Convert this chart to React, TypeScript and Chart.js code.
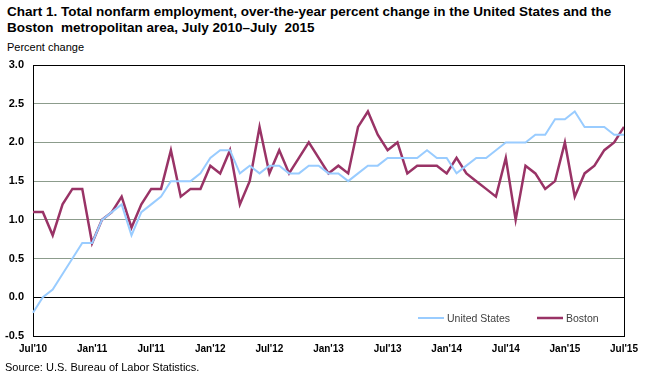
import React, { useEffect, useRef } from "react";
import { Chart, registerables } from "chart.js";

Chart.register(...registerables);

const months = ["Jan", "Feb", "Mar", "Apr", "May", "Jun", "Jul", "Aug", "Sep", "Oct", "Nov", "Dec"];
const categories: string[] = [];
for (let i = 0; i <= 60; i++) {
  const m = (6 + i) % 12;
  const y = 10 + Math.floor((6 + i) / 12);
  categories.push(months[m] + "'" + String(y));
}

const usValues = [
  -0.2, 0.0, 0.1, 0.3, 0.5, 0.7, 0.7, 1.0, 1.1, 1.2, 0.8, 1.1,
  1.2, 1.3, 1.5, 1.5, 1.5, 1.6, 1.8, 1.9, 1.9, 1.6, 1.7, 1.6,
  1.7, 1.7, 1.6, 1.6, 1.7, 1.7, 1.6, 1.6, 1.5, 1.6, 1.7, 1.7,
  1.8, 1.8, 1.8, 1.8, 1.9, 1.8, 1.8, 1.6, 1.7, 1.8, 1.8, 1.9,
  2.0, 2.0, 2.0, 2.1, 2.1, 2.3, 2.3, 2.4, 2.2, 2.2, 2.2, 2.1,
  2.1,
];

const bostonValues = [
  1.1, 1.1, 0.8, 1.2, 1.4, 1.4, 0.7, 1.0, 1.1, 1.3, 0.9, 1.2,
  1.4, 1.4, 1.9, 1.3, 1.4, 1.4, 1.7, 1.6, 1.9, 1.2, 1.5, 2.2,
  1.6, 1.9, 1.6, 1.8, 2.0, 1.8, 1.6, 1.7, 1.6, 2.2, 2.4, 2.1,
  1.9, 2.0, 1.6, 1.7, 1.7, 1.7, 1.6, 1.8, 1.6, 1.5, 1.4, 1.3,
  1.8, 1.0, 1.7, 1.6, 1.4, 1.5, 2.0, 1.3, 1.6, 1.7, 1.9, 2.0,
  2.2,
];

const seriesNames = ["United States", "Boston"];
const seriesColors = ["#99ccff", "#993366"];

const FONT = "'Liberation Sans', Arial, sans-serif";

export default function App() {
  const ref = useRef<HTMLCanvasElement | null>(null);

  useEffect(() => {
    if (!ref.current) return;
    const legendPlugin = {
      id: "insideLegend",
      afterDatasetsDraw(chart: any) {
        const { ctx, chartArea } = chart;
        ctx.save();
        ctx.font = "10.5px " + FONT;
        ctx.textBaseline = "middle";
        ctx.fillStyle = "#404040";
        const y = chartArea.bottom - 18;
        const items = [
          { x: 418, name: seriesNames[0], color: seriesColors[0], w: 2 },
          { x: 537, name: seriesNames[1], color: seriesColors[1], w: 2.5 },
        ];
        for (const it of items) {
          ctx.strokeStyle = it.color;
          ctx.lineWidth = it.w;
          ctx.beginPath();
          ctx.moveTo(it.x, y);
          ctx.lineTo(it.x + 26, y);
          ctx.stroke();
          ctx.fillText(it.name, it.x + 29, y + 1);
        }
        ctx.strokeStyle = "#000";
        ctx.lineWidth = 1;
        ctx.beginPath();
        const rx = Math.round(chartArea.right) + 0.5;
        ctx.moveTo(rx, chartArea.top);
        ctx.lineTo(rx, chartArea.bottom);
        ctx.stroke();
        ctx.restore();
      },
    };

    const chart = new Chart(ref.current, {
      type: "line",
      data: {
        labels: categories,
        datasets: [
          {
            label: seriesNames[0],
            data: usValues,
            borderColor: seriesColors[0],
            borderWidth: 2,
            pointRadius: 0,
            tension: 0,
          },
          {
            label: seriesNames[1],
            data: bostonValues,
            borderColor: seriesColors[1],
            borderWidth: 2.5,
            pointRadius: 0,
            tension: 0,
          },
        ],
      },
      options: {
        responsive: false,
        animation: false,
        layout: { padding: { top: 65, right: 23, left: 0, bottom: 0 } },
        plugins: { legend: { display: false }, title: { display: false }, tooltip: { enabled: false } },
        scales: {
          x: {
            grid: { display: false, drawTicks: false },
            border: { color: "#000", width: 1 },
            ticks: {
              autoSkip: false,
              maxRotation: 0,
              padding: 7,
              color: "#000",
              font: { family: FONT, size: 10, weight: "bold" },
              callback: (_v: any, i: number) => (i % 6 === 0 ? categories[i] : ""),
            },
            afterFit: (s: any) => {
              s.height = 40;
            },
          },
          y: {
            min: -0.5,
            max: 3.0,
            grid: {
              drawTicks: false,
              color: (c: any) => (c.tick && (c.tick.value === 0 || c.tick.value === 3) ? "#000" : "#8c9c8c"),
              lineWidth: 1,
            },
            border: { color: "#000", width: 1 },
            ticks: {
              stepSize: 0.5,
              padding: 9,
              color: "#000",
              font: { family: FONT, size: 11, weight: "bold" },
              callback: (v: any) => Number(v).toFixed(1),
            },
            afterFit: (s: any) => {
              s.width = 33;
            },
          },
        },
      },
      plugins: [legendPlugin],
    });
    return () => chart.destroy();
  }, []);

  return (
    <div style={{ position: "absolute", left: 0, top: 0, width: 647, height: 376, background: "#fff", fontFamily: FONT }}>
      <div style={{ position: "absolute", left: 7, top: 4, fontSize: 13.5, fontWeight: "bold", lineHeight: "16px", color: "#000", whiteSpace: "nowrap" }}>
        Chart 1. Total nonfarm employment, over-the-year percent change in the United States and the
        <br />
        Boston&nbsp; metropolitan area, July 2010–July&nbsp; 2015
      </div>
      <div style={{ position: "absolute", left: 7, top: 41, fontSize: 11, color: "#000", whiteSpace: "nowrap" }}>Percent change</div>
      <canvas ref={ref} width={647} height={376} style={{ position: "absolute", left: 0, top: 0 }} />
      <div style={{ position: "absolute", left: 5, top: 361, fontSize: 11, color: "#000", whiteSpace: "nowrap" }}>
        Source: U.S. Bureau of Labor Statistics.
      </div>
    </div>
  );
}
